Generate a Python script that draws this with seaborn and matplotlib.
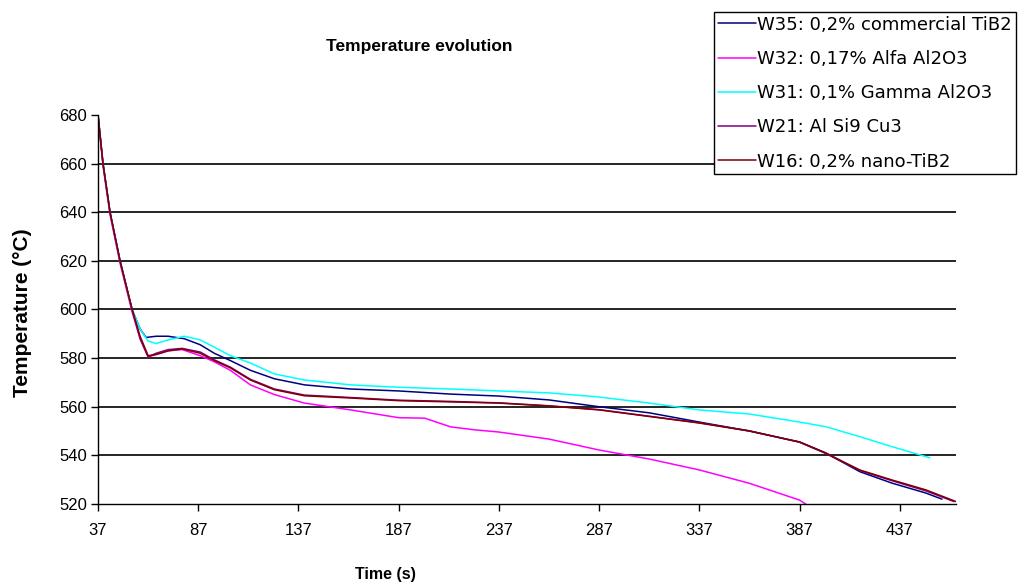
import pandas as pd
import seaborn as sns
from matplotlib import pyplot as plt

# cooling curves: time (s) and temperature (degC)
w35_time = [37, 39.5, 43, 48, 54, 58, 61, 66, 72, 80, 88, 95, 103, 113, 125, 140, 163, 187,
            213, 237, 262, 287, 312, 337, 362, 387, 400, 417, 433, 450, 458]
w35_temp = [680, 660, 640, 620, 600, 592, 588.5, 589, 589, 588, 585.5, 582, 579, 575, 571.5, 569,
            567.3, 566.5, 565.2, 564.4, 562.8, 560, 557.5, 553.7, 550, 545.5, 541, 533.3, 528.6,
            524.5, 522]

w32_time = [37, 39.5, 43, 48, 54, 58, 62, 66, 72, 79, 88, 95, 103, 113, 125, 140, 163, 187,
            200, 213, 225, 237, 262, 287, 312, 337, 362, 387, 390]
w32_temp = [680, 659, 639, 619, 599, 588, 580.5, 581.5, 583, 583.5, 581, 578.5, 575, 569, 565,
            561.5, 558.7, 555.5, 555.3, 551.7, 550.5, 549.6, 546.7, 542.2, 538.5, 534, 528.5,
            521.6, 520]

w31_time = [37, 39.5, 43, 48, 54, 58, 62, 66, 72, 80, 88, 95, 103, 113, 125, 140, 163, 187,
            213, 237, 262, 287, 312, 337, 362, 387, 400, 417, 433, 452]
w31_temp = [680, 660, 640, 620, 600, 592, 587, 586, 587.5, 589, 587.5, 584.5, 581, 578, 573.5,
            571, 569, 568, 567.3, 566.5, 565.7, 564, 561.5, 558.7, 557, 553.7, 551.8, 547.7,
            543.6, 539]

w21_time = [37, 39.5, 43, 48, 54, 58, 62, 66, 72, 79, 88, 95, 103, 113, 125, 140, 163, 187,
            213, 237, 262, 287, 312, 337, 362, 387, 400, 417, 433, 450, 464]
w21_temp = [680, 660, 640, 620, 600, 588, 580.5, 582, 583.5, 584, 582.5, 579.3, 576.3, 571.3,
            567.3, 564.8, 563.8, 562.7, 562.2, 561.6, 560.4, 558.8, 556.1, 553.4, 550.1, 545.4,
            540.8, 533.8, 529.6, 525.4, 521]

w16_time = [37, 39.5, 43, 48, 54, 58, 62, 66, 72, 79, 88, 95, 103, 113, 125, 140, 163, 187,
            213, 237, 262, 287, 312, 337, 362, 387, 400, 417, 433, 450, 465]
w16_temp = [680, 660, 640, 620, 600, 589, 581, 581.5, 583, 583.8, 582, 579, 576, 571, 567, 564.5,
            563.6, 562.5, 562, 561.5, 560.3, 558.7, 556, 553.3, 550, 545.5, 541, 534, 529.9,
            525.8, 521]

labels = ['W35: 0,2% commercial TiB2', 'W32: 0,17% Alfa Al2O3', 'W31: 0,1% Gamma Al2O3',
          'W21: Al Si9 Cu3', 'W16: 0,2% nano-TiB2']
colors = ['#000080', '#FF00FF', '#00FFFF', '#800080', '#800000']
x_ticks = [37, 87, 137, 187, 237, 287, 337, 387, 437]
y_ticks = [520, 540, 560, 580, 600, 620, 640, 660, 680]

frames = []
for name, t, T in zip(labels,
                      [w35_time, w32_time, w31_time, w21_time, w16_time],
                      [w35_temp, w32_temp, w31_temp, w21_temp, w16_temp]):
    frames.append(pd.DataFrame({'time': t, 'temp': T, 'series': name}))
data = pd.concat(frames, ignore_index=True)

sns.set_style('ticks')
plt.rcParams['font.family'] = ['Liberation Sans', 'DejaVu Sans']
plt.rcParams['text.color'] = 'black'

fig = plt.figure(figsize=(10.23, 5.87), dpi=100)
ax = fig.add_axes([98 / 1023, 1 - 504 / 587, (956 - 98) / 1023, (504 - 115) / 587])

# horizontal gridlines (none on the 680 top line)
for y in y_ticks[1:-1]:
    ax.axhline(y, color='black', lw=1.2, zorder=0)

sns.lineplot(data=data, x='time', y='temp', hue='series', hue_order=labels,
             palette=colors, estimator=None, sort=False, lw=1.1, ax=ax)

ax.set_xlim(37, 465)
ax.set_ylim(520, 680)
ax.set_xticks(x_ticks)
ax.set_yticks(y_ticks)
ax.tick_params(direction='out', length=5, width=1, colors='black', labelsize=12)
ax.tick_params(axis='x', pad=9)
ax.tick_params(axis='y', pad=3)
for side in ['top', 'right']:
    ax.spines[side].set_visible(False)
for side in ['left', 'bottom']:
    ax.spines[side].set_color('black')
    ax.spines[side].set_linewidth(1.0)
ax.set_xlabel('')
ax.set_ylabel('')

fig.text(419 / 1023, 1 - 47 / 587, 'Temperature evolution', ha='center', va='center',
         fontsize=12.5, fontweight='bold')
fig.text(385 / 1023, 1 - 575 / 587, 'Time (s)', ha='center', va='center',
         fontsize=11.5, fontweight='bold')
fig.text(23 / 1023, 1 - 313 / 587, 'Temperature (°C)', ha='center', va='center',
         rotation=90, fontsize=15, fontweight='bold')

handles, _ = ax.get_legend_handles_labels()
leg = ax.legend(handles, labels, loc='upper left',
                bbox_to_anchor=(714 / 1023, 1 - 12 / 587), bbox_transform=fig.transFigure,
                frameon=True, fancybox=False, framealpha=1, edgecolor='black',
                prop={'family': 'DejaVu Sans', 'size': 13},
                handlelength=2.1, handletextpad=0.1, labelspacing=0.9,
                borderpad=0.2, borderaxespad=0)
leg.get_frame().set_linewidth(1.0)

fig.savefig('out.png', dpi=100)
